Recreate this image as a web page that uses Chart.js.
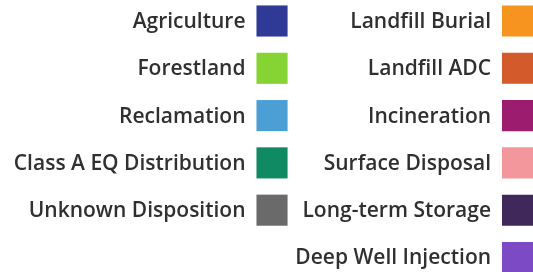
<!DOCTYPE html>
<html>
<head>
<meta charset="utf-8">
<script src="https://cdn.jsdelivr.net/npm/chart.js@4"></script>
<style>
  html, body { margin: 0; padding: 0; background: #fff; }
  #wrap { width: 533px; height: 272px; }
</style>
</head>
<body>
<div id="wrap"><canvas id="legend"></canvas></div>
<script>
// legend entries, left column then right column
const leftLabels = ['Agriculture', 'Forestland', 'Reclamation', 'Class A EQ Distribution', 'Unknown Disposition'];
const leftColors = ['#2f3a96', '#86d334', '#4b9fd5', '#0f8a62', '#6a6a6a'];
const rightLabels = ['Landfill Burial', 'Landfill ADC', 'Incineration', 'Surface Disposal', 'Long-term Storage', 'Deep Well Injection'];
const rightColors = ['#f7941f', '#d35a2b', '#9c1c6f', '#f4979c', '#40295a', '#7b4ac4'];

const datasets = [];
leftLabels.forEach((label, i) => {
    datasets.push({ label, data: [{ x: 0, y: i }], backgroundColor: leftColors[i] });
});
rightLabels.forEach((label, i) => {
    datasets.push({ label, data: [{ x: 1, y: i }], backgroundColor: rightColors[i] });
});
datasets.forEach(ds => {
    ds.pointStyle = 'rect';
    ds.pointRadius = 22;
    ds.pointHoverRadius = 22;
    ds.borderWidth = 0;
    ds.clip = false;
});

// draws each label to the left of its square
const labelPlugin = {
    id: 'labelPlugin',
    afterDatasetsDraw(chart) {
        const ctx = chart.ctx;
        ctx.save();
        ctx.font = '600 21px "Open Sans", Lato, sans-serif';
        ctx.fillStyle = '#303030';
        ctx.textAlign = 'right';
        ctx.textBaseline = 'middle';
        chart.data.datasets.forEach((ds, i) => {
            const pt = chart.getDatasetMeta(i).data[0];
            ctx.fillText(ds.label, pt.x - 15.5 - 11, pt.y + 1);
        });
        ctx.restore();
    }
};

new Chart(document.getElementById('legend'), {
    type: 'scatter',
    data: { datasets },
    options: {
        responsive: true,
        maintainAspectRatio: false,
        animation: false,
        layout: { padding: 0, autoPadding: false },
        plugins: {
            legend: { display: false },
            tooltip: { enabled: false }
        },
        scales: {
            x: { display: false, min: -1.108, max: 1.063 },
            y: { display: false, reverse: true, min: -0.444, max: 5.307 }
        }
    },
    plugins: [labelPlugin]
});
</script>
</body>
</html>
